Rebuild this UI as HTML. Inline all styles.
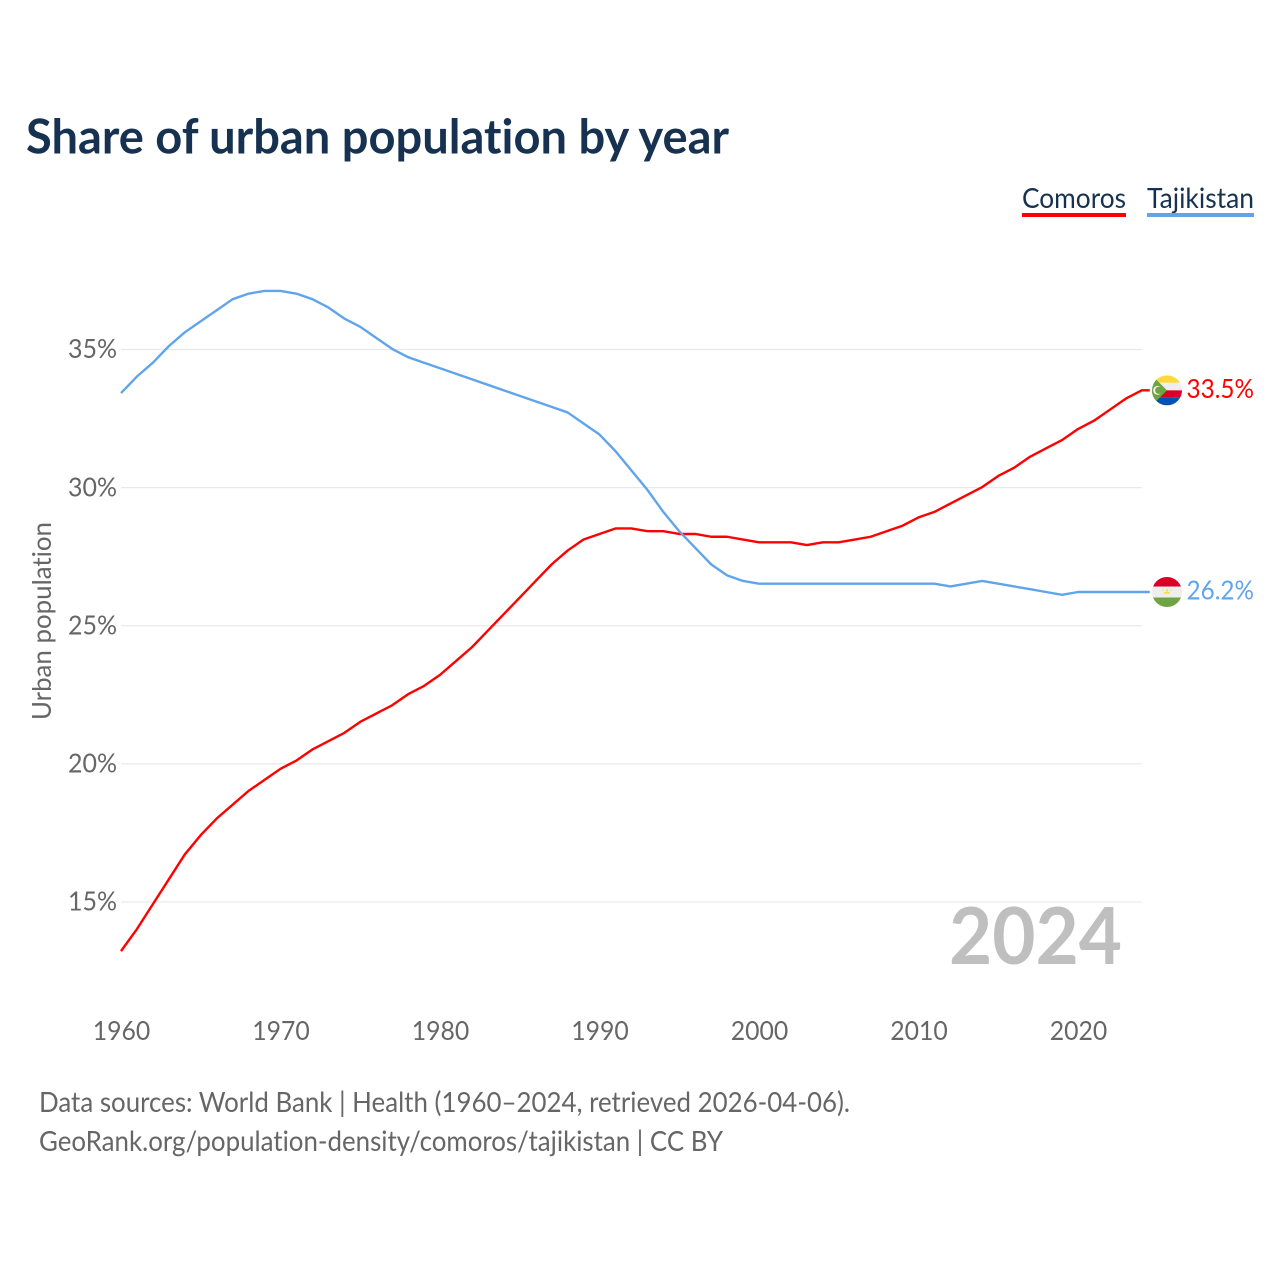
<!DOCTYPE html>
<html lang="en">
<head>
<meta charset="utf-8">
<title>Share of urban population by year</title>
<style>
html,body{margin:0;padding:0;background:#fff;width:1280px;height:1280px;overflow:hidden}
svg{display:block}
text{font-family:"Lato","Carlito","Liberation Sans",sans-serif;font-variant-ligatures:none;font-feature-settings:"liga" 0,"clig" 0}
</style>
</head>
<body>
<svg id="chart" width="1280" height="1280" viewBox="0 0 1280 1280" xmlns="http://www.w3.org/2000/svg">
  <defs>
    <clipPath id="flag-clip"><circle cx="0" cy="0" r="15"></circle></clipPath>
  </defs>
  <text x="26" y="153.5" font-size="47.5" font-weight="700" fill="#173151" textLength="703" lengthAdjust="spacingAndGlyphs">Share of urban population by year</text>

  <text x="1022" y="208" font-size="28" fill="#173151" textLength="104" lengthAdjust="spacingAndGlyphs">Comoros</text>
  <rect x="1022" y="213" width="104" height="4" fill="#ff0000"></rect>
  <text x="1147" y="208" font-size="28" fill="#173151" textLength="107" lengthAdjust="spacingAndGlyphs">Tajikistan</text>
  <rect x="1147" y="213" width="107" height="4" fill="#60a5ec"></rect>

  <g id="grid"></g>
  <g id="y-ticks"></g>
  <g id="x-ticks"></g>

  <text transform="translate(51 621) rotate(-90)" text-anchor="middle" font-size="26" fill="#666666" textLength="198" lengthAdjust="spacingAndGlyphs">Urban population</text>

  <text x="1122" y="964" text-anchor="end" font-size="79" font-weight="700" fill="#bfbfbf" textLength="173" lengthAdjust="spacingAndGlyphs">2024</text>

  <g id="series"></g>

  <g id="flag-comoros">
    <g clip-path="url(#flag-clip)">
      <rect x="-15" y="-15" width="30" height="7.5" fill="#ffd83d"></rect>
      <rect x="-15" y="-7.5" width="30" height="7.5" fill="#eeeeee"></rect>
      <rect x="-15" y="0" width="30" height="7.5" fill="#d80027"></rect>
      <rect x="-15" y="7.5" width="30" height="7.5" fill="#0052b4"></rect>
      <polygon points="-15,-15 0,0 -15,15" fill="#6da544"></polygon>
      <circle cx="-9.5" cy="0" r="4.4" fill="#eeeeee"></circle>
      <circle cx="-8.2" cy="0" r="3.6" fill="#6da544"></circle>
    </g>
  </g>
  <g id="flag-tajikistan">
    <g clip-path="url(#flag-clip)">
      <rect x="-15" y="-15" width="30" height="9.5" fill="#d80027"></rect>
      <rect x="-15" y="-5.5" width="30" height="11" fill="#eeeeee"></rect>
      <rect x="-15" y="5.5" width="30" height="9.5" fill="#6da544"></rect>
      <rect x="-3" y="0" width="6" height="1.6" fill="#ffda44"></rect>
      <circle cx="0" cy="-1.5" r="1.2" fill="#ffda44"></circle>
      <circle cx="-4" cy="-2" r="0.7" fill="#ffda44"></circle>
      <circle cx="4" cy="-2" r="0.7" fill="#ffda44"></circle>
    </g>
  </g>
  <text id="label-comoros" x="1186.5" font-size="26.5" fill="#ff0000" textLength="67.5" lengthAdjust="spacingAndGlyphs"></text>
  <text id="label-tajikistan" x="1186.5" font-size="26.5" fill="#60a5ec" textLength="67.5" lengthAdjust="spacingAndGlyphs"></text>

  <text x="39" y="1112" font-size="28" fill="#666666" textLength="811" lengthAdjust="spacingAndGlyphs">Data sources: World Bank | Health (1960–2024, retrieved 2026-04-06).</text>
  <text x="39" y="1151" font-size="28" fill="#666666" textLength="684" lengthAdjust="spacingAndGlyphs">GeoRank.org/population-density/comoros/tajikistan | CC BY</text>
</svg>
<script>
const startYear = 1960;
const yTicks = [15, 20, 25, 30, 35];
const xTicks = [1960, 1970, 1980, 1990, 2000, 2010, 2020];
const comoros = [13.2,14.0,14.9,15.8,16.7,17.4,18.0,18.5,19.0,19.4,19.8,20.1,20.5,20.8,21.1,21.5,21.8,22.1,22.5,22.8,23.2,23.7,24.2,24.8,25.4,26.0,26.6,27.2,27.7,28.1,28.3,28.5,28.5,28.4,28.4,28.3,28.3,28.2,28.2,28.1,28.0,28.0,28.0,27.9,28.0,28.0,28.1,28.2,28.4,28.6,28.9,29.1,29.4,29.7,30.0,30.4,30.7,31.1,31.4,31.7,32.1,32.4,32.8,33.2,33.5];
const tajikistan = [33.4,34.0,34.5,35.1,35.6,36.0,36.4,36.8,37.0,37.1,37.1,37.0,36.8,36.5,36.1,35.8,35.4,35.0,34.7,34.5,34.3,34.1,33.9,33.7,33.5,33.3,33.1,32.9,32.7,32.3,31.9,31.3,30.6,29.9,29.1,28.4,27.8,27.2,26.8,26.6,26.5,26.5,26.5,26.5,26.5,26.5,26.5,26.5,26.5,26.5,26.5,26.5,26.4,26.5,26.6,26.5,26.4,26.3,26.2,26.1,26.2,26.2,26.2,26.2,26.2];

const NS = 'http://www.w3.org/2000/svg';
function xScale(year) { return 121 + (year - 1960) * 15.95; }
function yScale(v) { return 902 - (v - 15) * (902 - 349.5) / 20; }
function make(tag, attrs, parent) {
  const el = document.createElementNS(NS, tag);
  for (const k in attrs) el.setAttribute(k, attrs[k]);
  parent.appendChild(el);
  return el;
}

const gridG = document.getElementById('grid');
const yG = document.getElementById('y-ticks');
const xG = document.getElementById('x-ticks');
const seriesG = document.getElementById('series');
const plotRight = xScale(startYear + comoros.length - 1);

yTicks.forEach(function (t) {
  const line = make('line', {x1: 121, x2: plotRight, y1: yScale(t), y2: yScale(t), stroke: '#e9e9e9', 'stroke-width': 1.3}, gridG);
  
  
  const label = make('text', {x: 117, y: yScale(t) + 8.7, 'text-anchor': 'end', 'font-size': 26, fill: '#666666', textLength: 49, lengthAdjust: 'spacingAndGlyphs'}, yG);
  
  
  label.textContent = t + '%';
});

xTicks.forEach(function (t) {
  const label = make('text', {x: xScale(t) + 0.5, y: 1040, 'text-anchor': 'middle', 'font-size': 26, fill: '#666666', textLength: 57.5, lengthAdjust: 'spacingAndGlyphs'}, xG);
  
  
  label.textContent = String(t);
});

function drawSeries(values, color) {
  let pts = values.map(function (v, i) { return xScale(startYear + i).toFixed(2) + ',' + (yScale(v) - 0.6).toFixed(2); });
  const last = values[values.length - 1];
  pts.push((plotRight + 8).toFixed(2) + ',' + (yScale(last) - 0.6).toFixed(2));
  const line = make('polyline', {points: pts.join(' '), fill: 'none', stroke: color, 'stroke-width': 2.4, 'stroke-linejoin': 'round'}, seriesG);
  return line;
}
const comorosLine = drawSeries(comoros, '#ff0000');


const tajikLine = drawSeries(tajikistan, '#60a5ec');



function placeEnd(flagId, labelId, values) {
  const last = values[values.length - 1];
  const y = yScale(last) - 0.6;
  document.getElementById(flagId).setAttribute('transform', 'translate(1167 ' + y + ')');
  const t = document.getElementById(labelId);
  t.setAttribute('y', y + 7.5);
  t.textContent = last.toFixed(1) + '%';
}
placeEnd('flag-comoros', 'label-comoros', comoros);
placeEnd('flag-tajikistan', 'label-tajikistan', tajikistan);
</script>
</body>
</html>
